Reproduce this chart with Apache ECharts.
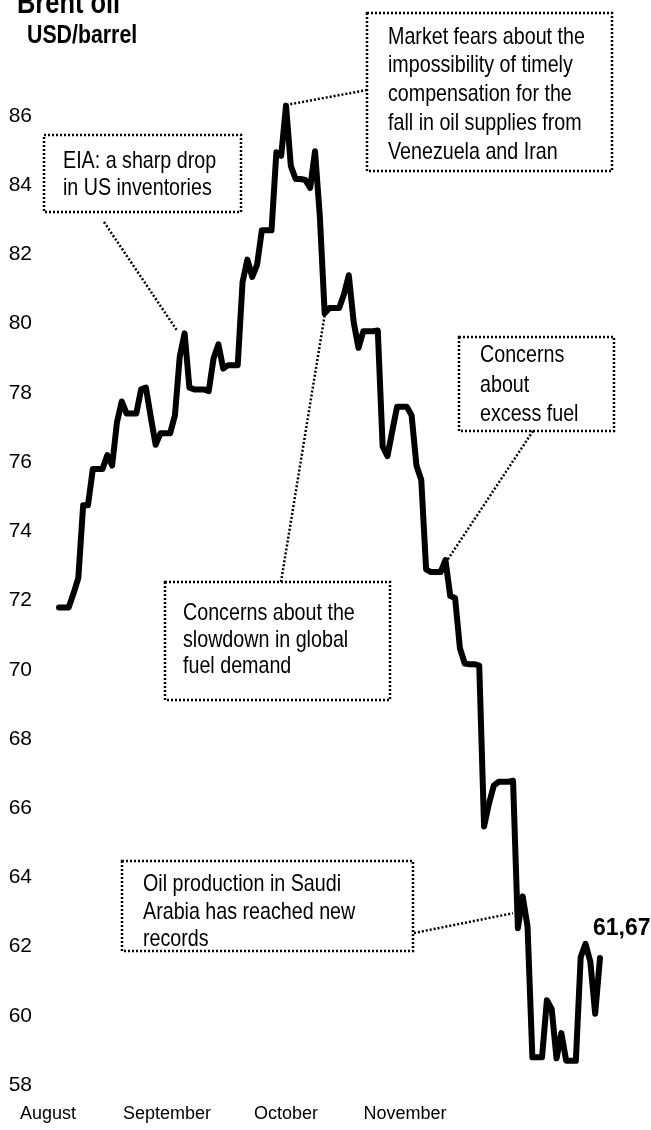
<!DOCTYPE html>
<html>
<head>
<meta charset="utf-8">
<style>
  html, body { margin: 0; padding: 0; background: #fff; }
  #chart { width: 651px; height: 1130px; }
</style>
<script src="https://cdn.jsdelivr.net/npm/echarts@6/dist/echarts.min.js"></script>
</head>
<body>
<div id="chart"></div>
<script>
// Brent, USD/barrel, one value per calendar day (weekends hold Friday's close)
var firstDay = [2018, 7, 17];
var augPrices = [71.8, 71.8, 71.8, 72.2, 72.65, 74.75, 74.75, 75.8, 75.8, 75.8, 76.2, 75.9, 77.15, 77.75, 77.4];
var sepPrices = [77.4, 77.4, 78.1, 78.15, 77.3, 76.5, 76.83, 76.83, 76.83, 77.35, 79.05, 79.72, 78.15, 78.1, 78.1,
  78.1, 78.05, 79.0, 79.4, 78.7, 78.8, 78.8, 78.8, 81.2, 81.85, 81.35, 81.7, 82.7, 82.7, 82.7];
var octPrices = [84.95, 84.85, 86.3, 84.55, 84.18, 84.18, 84.15, 83.92, 84.98, 83.1, 80.3, 80.45, 80.45, 80.45, 80.85,
  81.4, 80.05, 79.3, 79.78, 79.78, 79.78, 79.8, 76.45, 76.17, 76.9, 77.6, 77.6, 77.6, 77.35, 75.9, 75.48];
var novPrices = [72.9, 72.82, 72.82, 72.82, 73.17, 72.13, 72.07, 70.62, 70.18, 70.16, 70.16, 70.12, 65.47, 66.12, 66.65,
  66.76, 66.76, 66.76, 66.79, 62.53, 63.45, 62.58, 58.8, 58.8, 58.8, 60.45, 60.2, 58.77, 59.5, 58.7];
var decPrices = [58.7, 58.7, 61.69, 62.08, 61.56, 60.06, 61.67];

var monthLabels = ["August", "September", "October", "November"];
var yMin = 58, yMax = 86, yStep = 2;

var FONT = "'Liberation Sans', Arial, sans-serif";
var NARROW = 0.82; // the source uses a condensed face, squeeze graphic text to match

var prices = [].concat(augPrices, sepPrices, octPrices, novPrices, decPrices);
var seriesData = prices.map(function (v, i) {
  return [new Date(firstDay[0], firstDay[1], firstDay[2] + i).getTime(), v];
});

function dayIndex(month, day) {
  var t = new Date(2018, month - 1, day).getTime();
  for (var i = 0; i < seriesData.length; i++) {
    if (seriesData[i][0] === t) return i;
  }
  return 0;
}

// annotation boxes (layout in px), each tied to a day on the line
var notes = [
  { text: "EIA: a sharp drop\nin US inventories", box: [44, 135, 197, 77], tx: 63, ty: 175, lh: 26.5,
    from: [104, 222], at: [9, 12], off: [-7, -2] },
  { text: "Market fears about the\nimpossibility of timely\ncompensation for the\nfall in oil supplies from\nVenezuela and Iran",
    box: [367, 13, 245, 158], tx: 388, ty: 94.5, lh: 28.7, from: [367, 90], at: [10, 3], off: [2, -1] },
  { text: "Concerns\nabout\nexcess fuel", box: [459, 337, 155, 94], tx: 480, ty: 385, lh: 29.5,
    from: [533, 431], at: [11, 5], off: [2, 0] },
  { text: "Concerns about the\nslowdown in global\nfuel demand", box: [165, 582, 225, 118], tx: 183, ty: 640, lh: 26.7,
    from: [281, 582], at: [10, 11], off: [0, 2] },
  { text: "Oil production in Saudi\nArabia has reached new\nrecords", box: [122, 861, 291, 90], tx: 143, ty: 912, lh: 27.5,
    from: [414, 933], at: [11, 20], off: [-5, -15] }
];

var chart = echarts.init(document.getElementById("chart"));

var option = {
  animation: false,
  backgroundColor: "#fff",
  textStyle: { fontFamily: FONT, color: "#000" },
  grid: [
    { left: 59, right: 51, top: 116, bottom: 45 },
    { left: 48, width: 357, top: 1084, height: 1 }
  ],
  xAxis: [
    {
      gridIndex: 0,
      type: "time",
      min: seriesData[0][0],
      max: seriesData[seriesData.length - 1][0],
      show: false
    },
    {
      gridIndex: 1,
      type: "category",
      data: monthLabels,
      boundaryGap: false,
      axisLine: { show: false },
      axisTick: { show: false },
      splitLine: { show: false },
      axisLabel: {
        margin: 20,
        fontSize: 18,
        color: "#000",
        fontFamily: FONT,
        interval: 0
      }
    }
  ],
  yAxis: [
    {
      gridIndex: 0,
      type: "value",
      min: yMin,
      max: yMax,
      interval: yStep,
      axisLine: { show: false },
      axisTick: { show: false },
      splitLine: { show: false },
      axisLabel: {
        margin: 27,
        fontSize: 21,
        color: "#000",
        fontFamily: FONT
      }
    },
    { gridIndex: 1, type: "value", show: false }
  ],
  series: [
    {
      type: "line",
      xAxisIndex: 0,
      yAxisIndex: 0,
      data: seriesData,
      symbol: "none",
      clip: false,
      lineStyle: { color: "#000", width: 6, join: "round", cap: "round" },
      endLabel: {
        show: true,
        distance: 0,
        offset: [-7, -29],
        fontSize: 23,
        fontWeight: "bold",
        fontFamily: FONT,
        color: "#000",
        formatter: function (p) {
          return p.value[1].toFixed(2).replace(".", ",");
        }
      }
    }
  ]
};

chart.setOption(option);

var graphics = [
  { type: "text", x: 17, y: 4, scaleX: NARROW,
    style: { text: "Brent oil", fontSize: 31, fontWeight: "bold", fontFamily: FONT, fill: "#000", verticalAlign: "middle" } },
  { type: "text", x: 27, y: 36, scaleX: NARROW,
    style: { text: "USD/barrel", fontSize: 26, fontWeight: "bold", fontFamily: FONT, fill: "#000", verticalAlign: "middle" } }
];

notes.forEach(function (n) {
  var p = chart.convertToPixel({ gridIndex: 0 }, seriesData[dayIndex(n.at[0], n.at[1])]);
  graphics.push({
    type: "rect",
    shape: { x: n.box[0], y: n.box[1], width: n.box[2], height: n.box[3] },
    style: { fill: "#fff", stroke: "#000", lineWidth: 2.5, lineDash: [2, 2] }
  });
  graphics.push({
    type: "text", x: n.tx, y: n.ty, scaleX: NARROW,
    style: { text: n.text, fontSize: 24, fontFamily: FONT, fill: "#000", lineHeight: n.lh, verticalAlign: "middle" }
  });
  graphics.push({
    type: "line",
    shape: { x1: n.from[0], y1: n.from[1], x2: p[0] + n.off[0], y2: p[1] + n.off[1] },
    style: { stroke: "#000", lineWidth: 2.5, lineDash: [2, 2] }
  });
});

chart.setOption({ graphic: graphics });
</script>
</body>
</html>
